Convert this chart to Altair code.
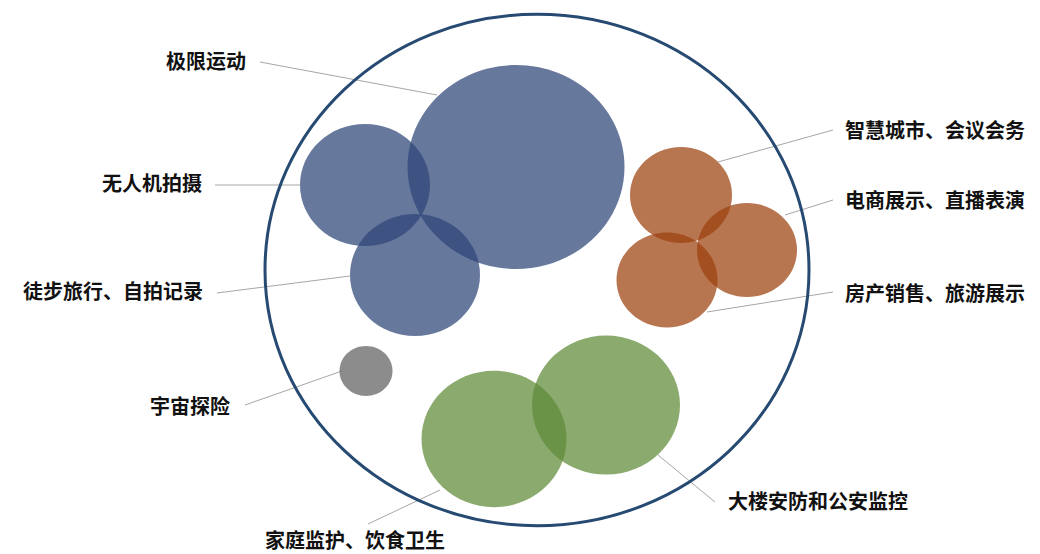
import altair as alt
import pandas as pd

# ---- data ----
names = ["极限运动", "无人机拍摄", "徒步旅行、自拍记录", "宇宙探险",
         "智慧城市、会议会务", "电商展示、直播表演", "房产销售、旅游展示",
         "家庭监护、饮食卫生", "大楼安防和公安监控"]
groups = ["蓝", "蓝", "蓝", "灰", "橙", "橙", "橙", "绿", "绿"]
bubble_x = [516, 365, 415, 366, 681, 747, 667, 494, 606]
bubble_y = [167, 185, 275, 371, 195, 250, 280, 439, 405]
bubble_d = [217, 130, 130, 53, 102, 100, 101, 145, 148]

label_x = [246, 202, 203, 230, 845, 845, 845, 265, 728]
label_y = [63, 185, 293, 408, 132, 202, 295, 542, 503]
label_side = ["left", "left", "left", "left", "right", "right", "right", "right", "right"]

line_x1 = [260, 215, 217, 245, 833, 833, 833, 368, 715]
line_y1 = [62, 185, 293, 405, 130, 200, 292, 524, 502]
line_x2 = [437, 300, 350, 342, 718, 785, 707, 440, 658]
line_y2 = [95, 185, 276, 371, 162, 215, 312, 490, 455]

ring_x = [537]
ring_y = [270]
ring_d = [544]

group_order = ["蓝", "橙", "绿", "灰"]
group_colors = ["#2F4678", "#9C420F", "#5F8B38", "#616161"]

ELLIPSE = "M-1,0A1,0.94,0,1,0,1,0A1,0.94,0,1,0,-1,0Z"

bubbles = pd.DataFrame({"name": names, "group": groups, "x": bubble_x,
                        "y": bubble_y, "d": bubble_d})
labels = pd.DataFrame({"name": names, "x": label_x, "y": label_y, "side": label_side})
lines = pd.DataFrame({"x": line_x1, "y": line_y1, "x2": line_x2, "y2": line_y2})
ring = pd.DataFrame({"x": ring_x, "y": ring_y, "d": ring_d})

xs = alt.Scale(domain=[8, 1032], nice=False, zero=False)
ys = alt.Scale(domain=[8, 554], nice=False, zero=False, reverse=True)

leader = alt.Chart(lines).mark_rule(color="#a6a6a6", strokeWidth=1).encode(
    x=alt.X("x:Q", scale=xs, axis=None),
    y=alt.Y("y:Q", scale=ys, axis=None),
    x2="x2:Q", y2="y2:Q",
)

bub = alt.Chart(bubbles).transform_calculate(s="datum.d * datum.d").mark_point(
    shape=ELLIPSE, filled=True, fillOpacity=0.73, strokeWidth=0, opacity=1
).encode(
    x=alt.X("x:Q", scale=xs, axis=None),
    y=alt.Y("y:Q", scale=ys, axis=None),
    size=alt.Size("s:Q", scale=None, legend=None),
    color=alt.Color("group:N", scale=alt.Scale(domain=group_order, range=group_colors), legend=None),
)

outer = alt.Chart(ring).transform_calculate(s="datum.d * datum.d").mark_point(
    shape=ELLIPSE, filled=False, stroke="#264a72", strokeWidth=3, opacity=1
).encode(
    x=alt.X("x:Q", scale=xs, axis=None),
    y=alt.Y("y:Q", scale=ys, axis=None),
    size=alt.Size("s:Q", scale=None, legend=None),
)

txt_common = dict(font="Noto Sans CJK SC", fontSize=20, fontWeight="bold",
                  color="#111111", baseline="middle")

txt_left = alt.Chart(labels).transform_filter("datum.side == 'left'").mark_text(
    align="right", **txt_common
).encode(
    x=alt.X("x:Q", scale=xs, axis=None),
    y=alt.Y("y:Q", scale=ys, axis=None),
    text="name:N",
)

txt_right = alt.Chart(labels).transform_filter("datum.side == 'right'").mark_text(
    align="left", **txt_common
).encode(
    x=alt.X("x:Q", scale=xs, axis=None),
    y=alt.Y("y:Q", scale=ys, axis=None),
    text="name:N",
)

chart = alt.layer(leader, bub, outer, txt_left, txt_right).properties(
    width=1024, height=546, padding=0,
    autosize=alt.AutoSizeParams(type="none"),
    background="white",
).configure_view(stroke=None)

chart.save("out.html", embed_options={"renderer": "svg", "actions": False})
